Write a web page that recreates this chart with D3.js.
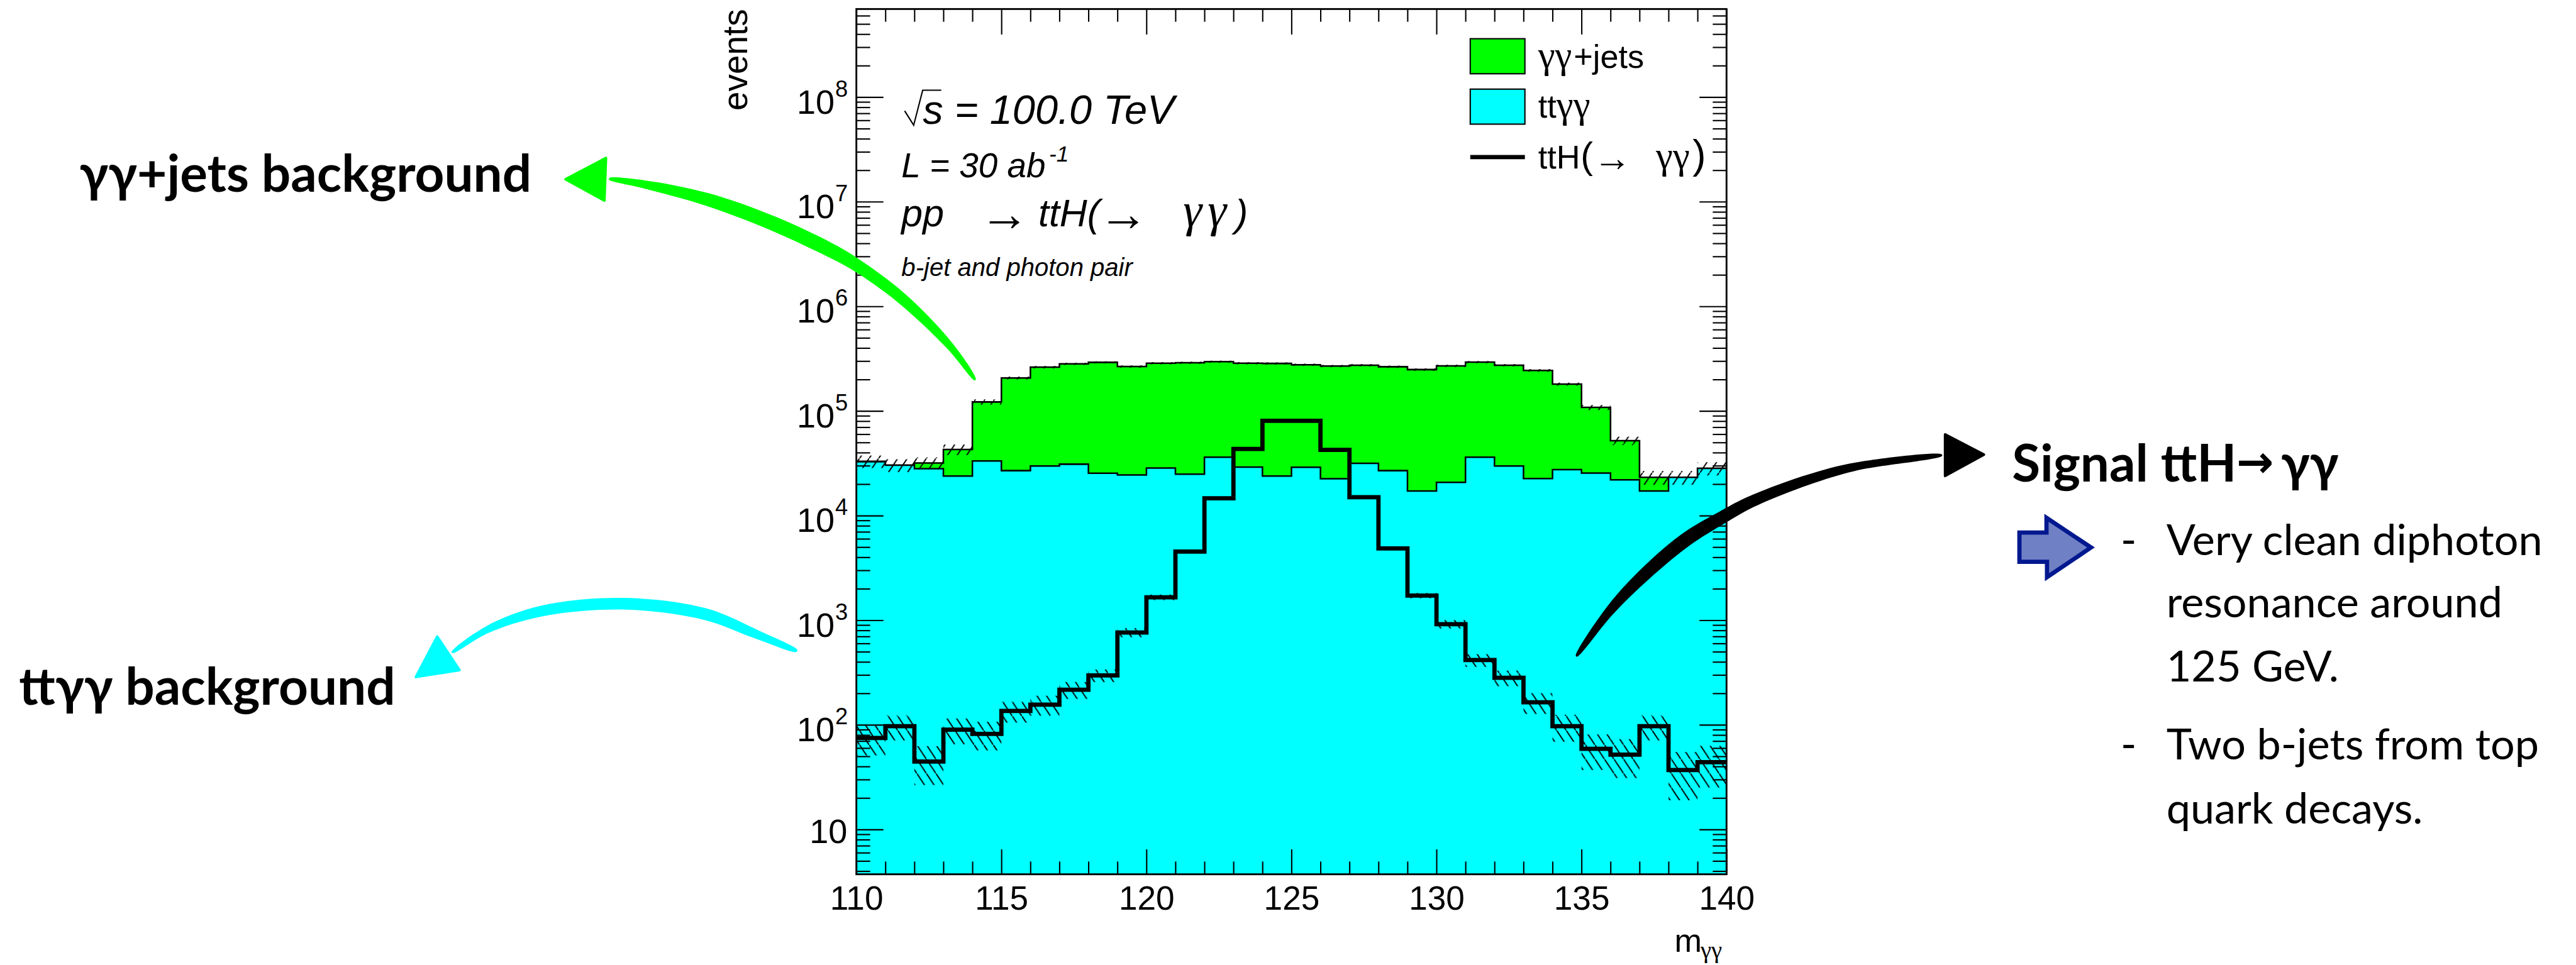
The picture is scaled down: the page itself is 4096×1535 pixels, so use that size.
<!DOCTYPE html>
<html>
<head>
<meta charset="utf-8">
<title>ttH diphoton</title>
<script src="https://cdn.jsdelivr.net/npm/d3@7"></script>
<style>
  html, body { margin: 0; padding: 0; background: #fff; }
  svg { display: block; }
  text { fill: #000; }
  .root { font-family: "Liberation Sans", Arial, sans-serif; }
  .it { font-style: italic; }
  .sym { font-family: "Liberation Serif", serif; font-style: normal; }
  .head { font-family: "Lato", "Noto Sans", sans-serif; font-weight: 700; font-size: 97px; }
  .body { font-family: "Lato", "Noto Sans", sans-serif; font-weight: 400; font-size: 81px; }
</style>
</head>
<body>
<div id="chart"></div>
<script>
// bin low edges, 1 GeV wide
var binEdges = d3.range(110, 141);

// stacked total (top of the green)
var totalValues = [33000, 30300, 31800, 42900, 122000, 206800, 262200, 281900, 291700, 266000,
  286100, 288900, 295900, 286100, 284700, 276600, 268700, 273800, 264700, 248700,
  270000, 293100, 273800, 243900, 180600, 108100, 52000, 23200, 23200, 28300];
var totalErrors = [4500, 4300, 4200, 5000, 7000, 6500, 7000, 7000, 7000, 7000,
  7000, 7000, 7000, 7000, 7000, 7000, 7000, 7000, 7000, 7000,
  7000, 7000, 7000, 7500, 6000, 6000, 4800, 3500, 3500, 4100];

// ttγγ (top of the cyan)
var ttaaValues = [32700, 30300, 28100, 23900, 33300, 26900, 29800, 31000, 25400, 24500,
  28500, 24900, 36200, 29100, 23900, 29000, 22500, 31600, 26900, 17200,
  20800, 36200, 29800, 22600, 27500, 25500, 22000, 17200, 23200, 28300];

// signal histogram
var signalValues = [75, 97, 44.6, 90, 82, 136, 156, 217, 297, 764,
  1657, 4537, 14640, 43300, 80500, 80500, 42500, 15000, 4854, 1722,
  918, 416, 282, 164, 97, 59, 52, 97, 37, 44];
var signalErrors = [24, 26, 18, 25, 25, 31, 34, 40, 41, 76,
  100, 180, 400, 800, 1200, 1200, 800, 400, 180, 100,
  85, 58, 48, 37, 28, 22, 21, 26, 18, 19];

var xMajorTicks = [110, 115, 120, 125, 130, 135, 140];
var xMinorTicks = binEdges.filter(function(d) { return d % 5 !== 0; });
var yExponents = [1, 2, 3, 4, 5, 6, 7, 8];
var yMinorTicks = [];
[0, 1, 2, 3, 4, 5, 6, 7, 8].forEach(function(e) {
  d3.range(2, 10).forEach(function(m) {
    var v = m * Math.pow(10, e);
    if (v > 3.73 && v < 6.95e8) yMinorTicks.push(v);
  });
});

var bulletLines = [
  { dash: true, text: 'Very clean diphoton', y: 1046 },
  { dash: false, text: 'resonance around', y: 1164 },
  { dash: false, text: '125 GeV.', y: 1285 },
  { dash: true, text: 'Two b-jets from top', y: 1432 },
  { dash: false, text: 'quark decays.', y: 1552 }
];

var width = 4855;
var height = 1819;
var plot = { left: 1614, right: 3254, top: 17, bottom: 1648 };

var svg = d3.select('#chart').append('svg')
  .attr('width', 4096)
  .attr('height', 1535)
  .attr('viewBox', '0 0 ' + width + ' ' + height)
  .attr('preserveAspectRatio', 'none');

var x = d3.scaleLinear().domain([110, 140]).range([plot.left, plot.right]);
var y = d3.scaleLog().domain([3.73, 6.95e8]).range([plot.bottom, plot.top]);

// hatch patterns, "/" for the background band and "\" for the signal
var defs = svg.append('defs');
function hatch(id, x1, y1, x2, y2) {
  var p = defs.append('pattern')
    .attr('id', id)
    .attr('patternUnits', 'userSpaceOnUse')
    .attr('width', 18)
    .attr('height', 27);
  p.append('line').attr('x1', x1).attr('y1', y1).attr('x2', x2).attr('y2', y2)
    .attr('stroke', '#000').attr('stroke-width', 2.4);
}
hatch('hatchUp', 0, 27, 18, 0);
hatch('hatchDown', 0, 0, 18, 27);
defs.append('clipPath').attr('id', 'plotClip').append('rect')
  .attr('x', plot.left).attr('y', plot.top)
  .attr('width', plot.right - plot.left).attr('height', plot.bottom - plot.top);

function stepData(values) {
  var pts = values.map(function(v, i) { return [binEdges[i], v]; });
  pts.push([binEdges[values.length], values[values.length - 1]]);
  return pts;
}
var area = d3.area()
  .curve(d3.curveStepAfter)
  .x(function(d) { return x(d[0]); })
  .y0(plot.bottom)
  .y1(function(d) { return y(d[1]); });
var line = d3.line()
  .curve(d3.curveStepAfter)
  .x(function(d) { return x(d[0]); })
  .y(function(d) { return y(d[1]); });

var g = svg.append('g').attr('clip-path', 'url(#plotClip)');

g.append('path').attr('d', area(stepData(totalValues))).attr('fill', '#00ff00');
g.append('path').attr('d', line(stepData(totalValues)))
  .attr('fill', 'none').attr('stroke', '#000').attr('stroke-width', 3);
g.append('path').attr('d', area(stepData(ttaaValues))).attr('fill', '#00ffff');
g.append('path').attr('d', line(stepData(ttaaValues)))
  .attr('fill', 'none').attr('stroke', '#000').attr('stroke-width', 3);

function band(values, errors, patternId) {
  g.append('g').selectAll('rect')
    .data(values)
    .enter()
    .append('rect')
    .attr('x', function(d, i) { return x(binEdges[i]); })
    .attr('width', function(d, i) { return x(binEdges[i + 1]) - x(binEdges[i]); })
    .attr('y', function(d, i) { return y(d + errors[i]); })
    .attr('height', function(d, i) { return y(d - errors[i]) - y(d + errors[i]); })
    .attr('fill', 'url(#' + patternId + ')');
}
band(totalValues, totalErrors, 'hatchUp');
band(signalValues, signalErrors, 'hatchDown');

g.append('path').attr('d', line(stepData(signalValues)))
  .attr('fill', 'none').attr('stroke', '#000').attr('stroke-width', 8)
  .attr('stroke-linejoin', 'miter');

// axes, ticks point inwards on all four sides
function tickGroup(axis, tx, ty) {
  var a = svg.append('g').attr('transform', 'translate(' + tx + ',' + ty + ')').call(axis);
  a.select('.domain').remove();
  a.selectAll('.tick line').attr('stroke', '#000').attr('stroke-width', 2.5);
  return a;
}
var xAxis = tickGroup(d3.axisBottom(x).tickValues(xMajorTicks).tickSize(-47).tickPadding(22)
  .tickFormat(d3.format('d')), 0, plot.bottom);
xAxis.selectAll('text')
  .attr('font-family', '"Liberation Sans", Arial, sans-serif')
  .attr('font-size', 63)
  .attr('fill', '#000');
tickGroup(d3.axisBottom(x).tickValues(xMinorTicks).tickSize(-24).tickFormat(''), 0, plot.bottom);
tickGroup(d3.axisTop(x).tickValues(xMajorTicks).tickSize(-48).tickFormat(''), 0, plot.top);
tickGroup(d3.axisTop(x).tickValues(xMinorTicks).tickSize(-24).tickFormat(''), 0, plot.top);

var yMajor = yExponents.map(function(e) { return Math.pow(10, e); });
tickGroup(d3.axisLeft(y).tickValues(yMajor).tickSize(-51).tickFormat(''), plot.left, 0);
tickGroup(d3.axisLeft(y).tickValues(yMinorTicks).tickSize(-26).tickFormat(''), plot.left, 0);
tickGroup(d3.axisRight(y).tickValues(yMajor).tickSize(-51).tickFormat(''), plot.right, 0);
tickGroup(d3.axisRight(y).tickValues(yMinorTicks).tickSize(-26).tickFormat(''), plot.right, 0);

svg.append('rect')
  .attr('x', plot.left).attr('y', plot.top)
  .attr('width', plot.right - plot.left).attr('height', plot.bottom - plot.top)
  .attr('fill', 'none').attr('stroke', '#000').attr('stroke-width', 3.4);

// y labels: 10 then 10^k
var yLabels = svg.append('g').attr('class', 'root');
yExponents.forEach(function(e) {
  var py = y(Math.pow(10, e));
  if (e === 1) {
    yLabels.append('text').attr('x', 1597).attr('y', py + 26)
      .attr('text-anchor', 'end').attr('font-size', 64).text('10');
    return;
  }
  yLabels.append('text').attr('x', 1573).attr('y', py + 31)
    .attr('text-anchor', 'end').attr('font-size', 64).text('10');
  yLabels.append('text').attr('x', 1574).attr('y', py - 1)
    .attr('font-size', 43).text(e);
});

svg.append('text').attr('class', 'root')
  .attr('transform', 'translate(1408,17) rotate(-90)')
  .attr('text-anchor', 'end')
  .attr('font-size', 65)
  .text('events');

var xTitle = svg.append('text').attr('class', 'root').attr('x', 3156).attr('y', 1794).attr('font-size', 62);
xTitle.append('tspan').text('m');
xTitle.append('tspan').attr('class', 'sym').attr('x', 3205).attr('y', 1806).attr('font-size', 46).text('γγ');

// legend
var legend = svg.append('g').attr('class', 'root');
legend.append('rect').attr('x', 2771).attr('y', 73).attr('width', 103).attr('height', 66)
  .attr('fill', '#00ff00').attr('stroke', '#000').attr('stroke-width', 2.5);
legend.append('rect').attr('x', 2771).attr('y', 168).attr('width', 103).attr('height', 66)
  .attr('fill', '#00ffff').attr('stroke', '#000').attr('stroke-width', 2.5);
legend.append('line').attr('x1', 2771).attr('x2', 2874).attr('y1', 296).attr('y2', 296)
  .attr('stroke', '#000').attr('stroke-width', 8);

var l1 = legend.append('text').attr('x', 2899).attr('y', 128).attr('font-size', 62);
l1.append('tspan').attr('class', 'sym').attr('font-size', 72).text('γγ');
l1.append('tspan').attr('x', 2966).text('+jets');
var l2 = legend.append('text').attr('x', 2899).attr('y', 222).attr('font-size', 62);
l2.append('tspan').text('tt');
l2.append('tspan').attr('class', 'sym').attr('font-size', 72).text('γγ');
var l3 = legend.append('text').attr('x', 2899).attr('y', 318).attr('font-size', 62);
l3.append('tspan').text('ttH');
l3.append('tspan').attr('font-size', 70).attr('x', 2979).text('(');
l3.append('tspan').attr('x', 3003).attr('y', 322).attr('font-size', 72).text('→');
l3.append('tspan').attr('class', 'sym').attr('font-size', 72).attr('x', 3121).attr('y', 318).text('γγ');
l3.append('tspan').attr('font-size', 76).attr('x', 3190).text(')');

// text block inside the frame
var notes = svg.append('g').attr('class', 'root');
notes.append('path').attr('d', 'M1705,209 L1722,236 L1739,170 L1774,170')
  .attr('fill', 'none').attr('stroke', '#000').attr('stroke-width', 2.5);
notes.append('text').attr('class', 'it').attr('x', 1739).attr('y', 233).attr('font-size', 77).text('s = 100.0 TeV');
var lumi = notes.append('text').attr('class', 'it').attr('x', 1699).attr('y', 334).attr('font-size', 65);
lumi.append('tspan').text('L = 30 ab');
lumi.append('tspan').attr('x', 1977).attr('y', 305).attr('font-size', 42).text('-1');
var proc = notes.append('text').attr('x', 1699).attr('y', 427).attr('font-size', 72);
proc.append('tspan').attr('class', 'it').text('pp');
proc.append('tspan').attr('x', 1846).attr('y', 435).attr('font-size', 94).text('→');
proc.append('tspan').attr('class', 'it').attr('x', 1957).attr('y', 427).text('ttH(');
proc.append('tspan').attr('x', 2070).attr('y', 435).attr('font-size', 94).text('→');
proc.append('tspan').attr('class', 'sym it').attr('x', 2230).attr('y', 427).attr('font-size', 90).style('font-style', 'italic').text('γ');
proc.append('tspan').attr('class', 'sym it').attr('x', 2276).attr('font-size', 90).style('font-style', 'italic').text('γ');
proc.append('tspan').attr('class', 'it').attr('x', 2328).text(')');
notes.append('text').attr('class', 'it').attr('x', 1699).attr('y', 520).attr('font-size', 47.5).text('b-jet and photon pair');

// hand drawn arrows
function swoosh(points, color) {
  var left = [], right = [];
  points.forEach(function(p, i) {
    var a = points[Math.max(i - 1, 0)], b = points[Math.min(i + 1, points.length - 1)];
    var dx = b[0] - a[0], dy = b[1] - a[1], len = Math.sqrt(dx * dx + dy * dy);
    left.push([p[0] - dy / len * p[2] / 2, p[1] + dx / len * p[2] / 2]);
    right.push([p[0] + dy / len * p[2] / 2, p[1] - dx / len * p[2] / 2]);
  });
  var outline = d3.line().curve(d3.curveCatmullRomClosed);
  svg.append('path').attr('d', outline(left.concat(right.reverse()))).attr('fill', color);
}
function arrowHead(pts, color) {
  svg.append('polygon').attr('points', pts.join(' '))
    .attr('fill', color).attr('stroke', color).attr('stroke-width', 5).attr('stroke-linejoin', 'round');
}

swoosh([[1148, 337, 3], [1212, 347, 15], [1333, 376, 24], [1454, 420, 27], [1550, 464, 27],
  [1610, 497, 24], [1699, 562, 21], [1791, 653, 14], [1838, 716, 3]], '#00ff00');
arrowHead([[1142, 298], [1066, 338], [1139, 378]], '#00ff00');

swoosh([[1502, 1227, 4], [1429, 1197, 16], [1327, 1157, 22], [1173, 1138, 22], [1020, 1152, 20],
  [918, 1187, 13], [852, 1230, 3]], '#00ffff');
arrowHead([[824, 1200], [784, 1276], [866, 1263]], '#00ffff');

swoosh([[2971, 1237, 3], [3031, 1155, 17], [3089, 1093, 23], [3175, 1019, 26], [3250, 973, 24],
  [3300, 946, 22], [3406, 905, 19], [3500, 879, 15], [3660, 858, 3]], '#000');
arrowHead([[3666, 819], [3739, 857], [3666, 897]], '#000');

// right hand text
svg.append('text').attr('class', 'head').attr('x', 150).attr('y', 361).text('γγ+jets background');
svg.append('text').attr('class', 'head').attr('x', 36).attr('y', 1328).text('ttγγ background');
svg.append('text').attr('class', 'head').attr('x', 3792).attr('y', 908).text('Signal ttH');
svg.append('text').attr('class', 'head').attr('x', 4299).attr('y', 908).text('γγ');
svg.append('text').attr('x', 4215).attr('y', 900)
  .attr('font-family', '"DejaVu Sans", sans-serif').attr('font-weight', 700).attr('font-size', 84).text('→');

svg.append('path').attr('d', 'M3806,1004 L3857,1004 L3857,976 L3941,1032 L3858,1088 L3858,1059 L3806,1059 Z')
  .attr('fill', '#7080c4').attr('stroke', '#02188f').attr('stroke-width', 8);

bulletLines.forEach(function(l) {
  svg.append('text').attr('class', 'body').attr('x', 4083).attr('y', l.y).text(l.text);
  if (l.dash) svg.append('text').attr('class', 'body').attr('x', 3997).attr('y', l.y).attr('font-weight', 700).text('-');
});
</script>
</body>
</html>
